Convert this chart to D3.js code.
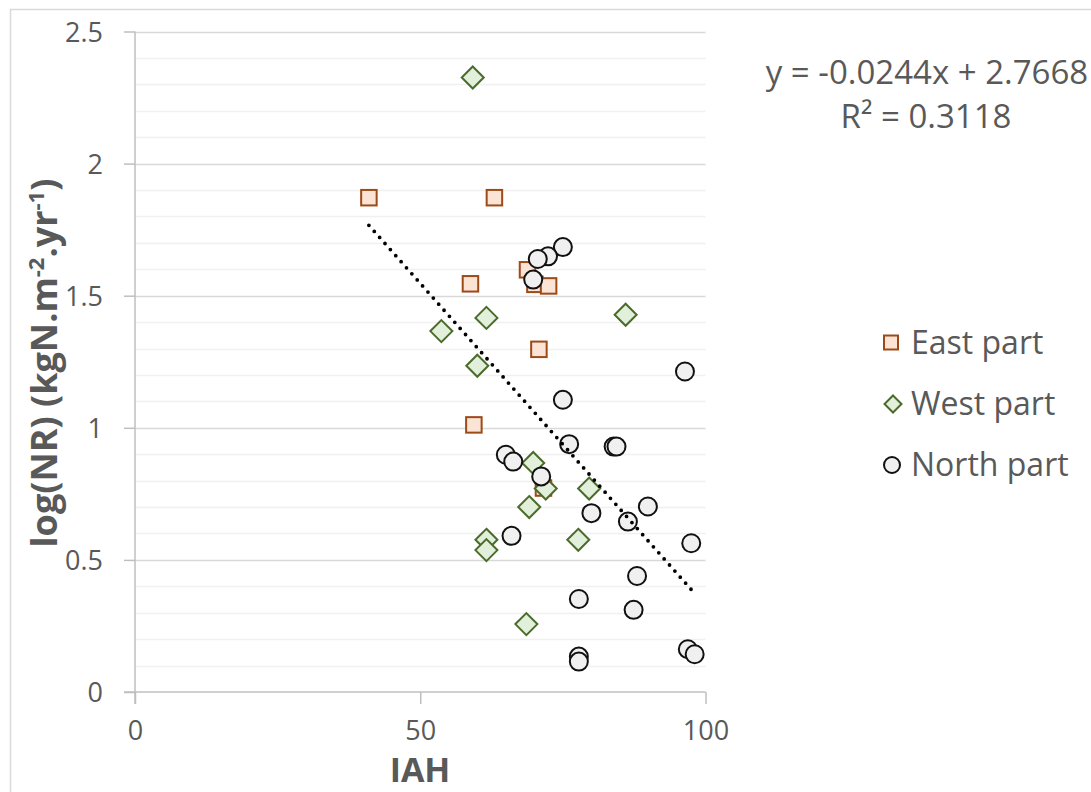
<!DOCTYPE html>
<html>
<head>
<meta charset="utf-8">
<script src="https://cdn.jsdelivr.net/npm/d3@7"></script>
<style>
  html, body { margin: 0; padding: 0; background: #fff; }
  svg text { font-family: "Open Sans", "Noto Sans", sans-serif; fill: #595959; }
</style>
</head>
<body>
<svg id="chart" width="1091" height="792"></svg>
<script>
// ---------- data ----------
const eastX  = [41.0, 63.0, 58.8, 68.8, 70.1, 72.5, 70.8, 59.4, 71.6];
const eastY  = [1.871, 1.871, 1.545, 1.598, 1.543, 1.537, 1.297, 1.011, 0.772];

const westX  = [59.2, 53.7, 61.6, 60.0, 86.0, 69.8, 72.0, 79.6, 69.1, 61.6, 61.6, 77.7, 68.6];
const westY  = [2.326, 1.366, 1.416, 1.235, 1.428, 0.867, 0.770, 0.770, 0.700, 0.576, 0.537, 0.576, 0.257];

const northX = [75.0, 72.4, 70.6, 69.8, 96.4, 75.0, 76.1, 83.9, 84.4, 65.0, 66.3, 71.2, 80.0, 89.9, 86.4, 66.0, 97.5, 88.0, 77.8, 87.4, 77.8, 77.8, 96.9, 98.1];
const northY = [1.684, 1.649, 1.639, 1.561, 1.213, 1.106, 0.938, 0.929, 0.929, 0.898, 0.872, 0.816, 0.677, 0.702, 0.645, 0.591, 0.563, 0.439, 0.352, 0.311, 0.134, 0.115, 0.162, 0.143];

const seriesNames = ["East part", "West part", "North part"];
const xTicks = [0, 50, 100];
const yTicks = [0, 0.5, 1, 1.5, 2, 2.5];
const yMinorTicks = [0.1,0.2,0.3,0.4,0.6,0.7,0.8,0.9,1.1,1.2,1.3,1.4,1.6,1.7,1.8,1.9,2.1,2.2,2.3,2.4];
const trendSlope = -0.0244;
const trendIntercept = 2.7668;
const equationText = "y = -0.0244x + 2.7668";
const r2Text = "R² = 0.3118";
const xTitle = "IAH";

// ---------- layout ----------
const svg = d3.select("#chart");
const plot = { left: 135, right: 705.5, top: 31.5, bottom: 692 };

const x = d3.scaleLinear().domain([0, 100]).range([plot.left, plot.right]);
const y = d3.scaleLinear().domain([0, 2.5]).range([plot.bottom, plot.top]);

// chart border
svg.append("rect").attr("x", 10.5).attr("y", 9.5).attr("width", 1100).attr("height", 800)
  .attr("fill", "none").attr("stroke", "#d9d9d9").attr("stroke-width", 1.5);

// minor gridlines
svg.append("g").selectAll("line").data(yMinorTicks).join("line")
  .attr("x1", plot.left).attr("x2", plot.right)
  .attr("y1", d => Math.round(y(d)) + 0.5).attr("y2", d => Math.round(y(d)) + 0.5)
  .attr("stroke", "#f0f0f0").attr("stroke-width", 1.5);

// major gridlines
svg.append("g").selectAll("line").data(yTicks.filter(d => d > 0)).join("line")
  .attr("x1", plot.left).attr("x2", plot.right)
  .attr("y1", d => Math.round(y(d)) + 0.5).attr("y2", d => Math.round(y(d)) + 0.5)
  .attr("stroke", "#d9d9d9").attr("stroke-width", 1.5);

// y axis
const yAxis = d3.axisLeft(y).tickValues(yTicks).tickSize(11).tickPadding(21)
  .tickFormat(d => d3.format("")(d));
const gy = svg.append("g").attr("transform", `translate(${plot.left},0)`).call(yAxis);
gy.select(".domain").attr("stroke", "#bfbfbf").attr("stroke-width", 1.5)
  .attr("d", `M0,${plot.top}V${plot.bottom + 12}`);
gy.selectAll(".tick line").attr("stroke", "#bfbfbf").attr("stroke-width", 1.5);
gy.selectAll(".tick text").attr("font-size", 27).attr("fill", "#595959")
  .attr("font-family", "'Open Sans', sans-serif").attr("dy", "0.36em");

// x axis
const xAxis = d3.axisBottom(x).tickValues(xTicks).tickSize(12).tickPadding(17)
  .tickFormat(d3.format("d"));
const gx = svg.append("g").attr("transform", `translate(0,${plot.bottom})`).call(xAxis);
gx.select(".domain").attr("stroke", "#bfbfbf").attr("stroke-width", 1.5)
  .attr("d", `M${plot.left - 11},0H${plot.right}`);
gx.selectAll(".tick line").attr("stroke", "#bfbfbf").attr("stroke-width", 1.5);
gx.selectAll(".tick text").attr("font-size", 27).attr("fill", "#595959")
  .attr("font-family", "'Open Sans', sans-serif");

// ---------- markers ----------
const eastData  = eastX.map((v, i) => ({ x: v, y: eastY[i] }));
const westData  = westX.map((v, i) => ({ x: v, y: westY[i] }));
const northData = northX.map((v, i) => ({ x: v, y: northY[i] }));

const sq = 15.5;
svg.append("g").selectAll("rect").data(eastData).join("rect")
  .attr("x", d => x(d.x) - sq / 2).attr("y", d => y(d.y) - sq / 2)
  .attr("width", sq).attr("height", sq)
  .attr("fill", "#fbe3d6").attr("stroke", "#9e4a17").attr("stroke-width", 2);

const dh = 11;
svg.append("g").selectAll("path").data(westData).join("path")
  .attr("d", d => {
    const cx = x(d.x), cy = y(d.y);
    return `M${cx},${cy - dh}L${cx + dh},${cy}L${cx},${cy + dh}L${cx - dh},${cy}Z`;
  })
  .attr("fill", "#e2efda").attr("stroke", "#4a6b2a").attr("stroke-width", 2);

svg.append("g").selectAll("circle").data(northData).join("circle")
  .attr("cx", d => x(d.x)).attr("cy", d => y(d.y)).attr("r", 9)
  .attr("fill", "#f0f0f0").attr("stroke", "#111").attr("stroke-width", 2);

// ---------- trendline ----------
const allX = eastX.concat(westX, northX);
const [tx0, tx1] = d3.extent(allX);
svg.append("line")
  .attr("x1", x(tx0)).attr("y1", y(trendSlope * tx0 + trendIntercept))
  .attr("x2", x(tx1)).attr("y2", y(trendSlope * tx1 + trendIntercept))
  .attr("stroke", "#000").attr("stroke-width", 3.8)
  .attr("stroke-linecap", "round").attr("stroke-dasharray", "0 8.1");

// equation
svg.append("text").attr("x", 927).attr("y", 84).attr("text-anchor", "middle")
  .attr("font-size", 33).text(equationText);
svg.append("text").attr("x", 926).attr("y", 128).attr("text-anchor", "middle")
  .attr("font-size", 33).text(r2Text);

// ---------- legend ----------
const legendY = [343, 404, 465];
const lg = svg.append("g");
lg.append("rect").attr("x", 884).attr("y", legendY[0] - 7.5).attr("width", 14).attr("height", 14)
  .attr("fill", "#fbe3d6").attr("stroke", "#9e4a17").attr("stroke-width", 2);
lg.append("path").attr("d", `M893,${legendY[1]-8.5}L901.5,${legendY[1]}L893,${legendY[1]+8.5}L884.5,${legendY[1]}Z`)
  .attr("fill", "#e2efda").attr("stroke", "#4a6b2a").attr("stroke-width", 2);
lg.append("circle").attr("cx", 892).attr("cy", legendY[2]).attr("r", 8)
  .attr("fill", "#f0f0f0").attr("stroke", "#111").attr("stroke-width", 2);
lg.selectAll("text").data(seriesNames).join("text")
  .attr("x", 911).attr("y", (d, i) => legendY[i] + 11)
  .attr("font-size", 32).text(d => d);

// ---------- axis titles ----------
svg.append("text").attr("x", 420).attr("y", 782).attr("text-anchor", "middle")
  .attr("font-size", 34).attr("font-weight", "bold").text(xTitle);

const yt = svg.append("text").attr("transform", "translate(57,363) rotate(-90)")
  .attr("text-anchor", "middle").attr("font-size", 36).attr("font-weight", "bold");
yt.append("tspan").text("log(NR) (kgN.m");
yt.append("tspan").attr("dy", -13).attr("font-size", 22).text("-2");
yt.append("tspan").attr("dy", 13).text(".yr");
yt.append("tspan").attr("dy", -13).attr("font-size", 22).text("-1");
yt.append("tspan").attr("dy", 13).text(")");
</script>
</body>
</html>
